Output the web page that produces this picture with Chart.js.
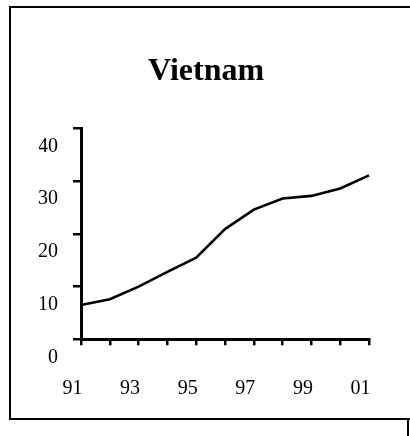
<!DOCTYPE html>
<html>
<head>
<meta charset="utf-8">
<script src="https://cdn.jsdelivr.net/npm/chart.js@4/dist/chart.umd.min.js"></script>
<style>
  html, body { margin: 0; padding: 0; background: #fff; overflow: hidden; }
  #wrap { position: relative; width: 410px; height: 436px; overflow: hidden; }
  #frame { position: absolute; left: 9px; top: 6px; width: 430px; height: 414px; border: 2px solid #000; box-sizing: border-box; pointer-events: none; }
  #edge { position: absolute; left: 407px; top: 418px; width: 2px; height: 30px; background: #000; }
  canvas { position: absolute; left: 0; top: 0; }
</style>
</head>
<body>
<div id="wrap">
  <canvas id="chart" width="410" height="436"></canvas>
  <div id="frame"></div>
  <div id="edge"></div>
</div>
<script>
const years = ['91', '92', '93', '94', '95', '96', '97', '98', '99', '00', '01'];
const yearLabels = ['91', '', '93', '', '95', '', '97', '', '99', '', '01'];
const values = [6.5, 7.6, 10.0, 12.8, 15.5, 20.9, 24.6, 26.7, 27.2, 28.6, 31.1];
const yTicks = [0, 10, 20, 30, 40];

const serif = 'Liberation Serif, Times New Roman, serif';

// near-equal padding left and right keeps the title centred on the page
const padLeft = 38.7;
const padRight = 36.5;

const ctx = document.getElementById('chart').getContext('2d');
new Chart(ctx, {
  type: 'line',
  data: {
    labels: years,
    datasets: [{
      label: 'Vietnam',
      data: values,
      borderColor: '#000',
      borderWidth: 2.6,
      pointRadius: 0,
      tension: 0,
      fill: false,
    }],
  },
  options: {
    responsive: false,
    animation: false,
    devicePixelRatio: 1,
    layout: { padding: { left: padLeft, right: padRight, top: 0, bottom: 0 } },
    plugins: {
      legend: { display: false },
      tooltip: { enabled: false },
      title: {
        display: true,
        text: 'Vietnam',
        color: '#000',
        font: { family: serif, size: 32, weight: 'bold', lineHeight: 1.2 },
        padding: { top: 53, bottom: 37 },
      },
    },
    scales: {
      x: {
        offset: false,
        grid: { drawOnChartArea: false, drawTicks: true, tickLength: 6, color: '#000', lineWidth: 2.5 },
        border: { color: '#000', width: 3 },
        ticks: {
          autoSkip: false,
          maxRotation: 0,
          color: '#000',
          padding: 31,
          labelOffset: -8.5,
          font: { family: serif, size: 20 },
          callback: (v, i) => yearLabels[i],
        },
        afterFit: s => { s.height = 96.7; },
      },
      y: {
        min: 0,
        max: 40,
        grid: { drawOnChartArea: false, drawTicks: true, tickLength: 8, color: '#000', lineWidth: 2.5 },
        border: { color: '#000', width: 3 },
        afterBuildTicks: s => { s.ticks = yTicks.map(v => ({ value: v })); },
        ticks: {
          color: '#000',
          padding: 15,
          labelOffset: 18,
          font: { family: serif, size: 20 },
        },
        afterFit: s => { s.width = 81 - padLeft; },
      },
    },
  },
});
</script>
</body>
</html>
